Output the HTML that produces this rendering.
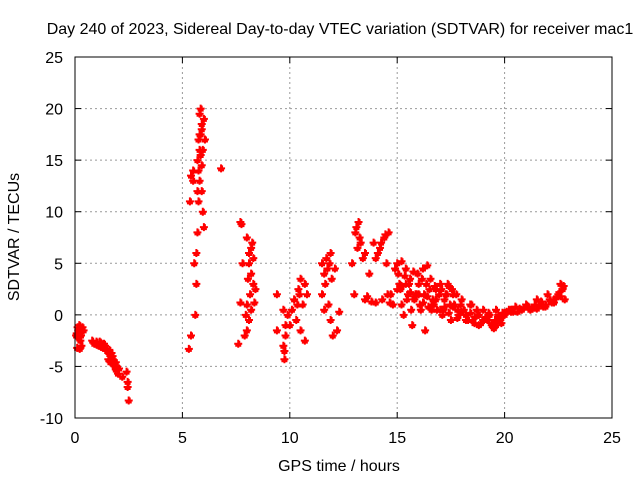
<!DOCTYPE html>
<html><head><meta charset="utf-8"><style>
body{margin:0;background:#fff}
svg{display:block;font-family:"Liberation Sans",sans-serif}
</style></head><body>
<svg id="chart" width="640" height="480">
<text x="340" y="34" font-size="16" text-anchor="middle">Day 240 of 2023, Sidereal Day-to-day VTEC variation (SDTVAR) for receiver mac1</text>
<g id="grid"></g><g id="ticks"></g><g id="pts"></g>
<rect x="75" y="57" width="537" height="361" fill="none" stroke="#000" stroke-width="1"/>
<text x="339" y="471" font-size="16" text-anchor="middle">GPS time / hours</text>
<text transform="translate(19,237) rotate(-90)" font-size="16" text-anchor="middle">SDTVAR / TECUs</text>
</svg>
<script>
const xTicks=[0,5,10,15,20,25];
const yTicks=[-10,-5,0,5,10,15,20,25];
const hours=[0.05,0.1,0.15,0.2,0.25,0.3,0.35,0.4,0.12,0.22,0.08,0.18,0.28,
0.8,0.9,1.0,1.1,1.2,1.3,1.4,1.5,1.6,1.7,1.8,1.9,2.0,2.2,2.4,2.45,2.5,2.45,1.55,1.65,1.75,1.85,1.95,1.45,1.35,1.05,1.25,1.15,1.6,1.7,1.8,1.9,2.05,
5.3,5.4,5.35,5.4,5.5,5.55,5.6,5.65,5.7,5.7,5.75,5.8,5.85,5.9,5.95,6.0,5.9,5.95,6.0,5.8,5.85,6.05,5.75,6.8,5.65,5.8,5.9,5.7,5.75,5.8,5.85,5.9,5.5,
7.6,7.7,7.7,7.75,7.8,7.9,8.0,8.0,8.1,8.2,8.3,8.1,8.2,8.3,8.4,8.0,8.15,8.25,8.35,8.05,8.1,8.2,7.95,
9.4,9.4,9.7,9.7,9.75,9.8,9.9,10.0,10.1,10.2,10.3,10.4,10.5,10.6,10.7,10.7,10.5,10.8,9.75,9.8,10.35,10.45,
11.5,11.5,11.6,11.7,11.8,11.9,11.9,12.0,12.1,12.2,12.3,11.6,11.65,11.75,11.85,11.95,
12.9,13.0,13.1,13.2,13.3,13.4,13.5,13.5,13.7,13.9,14.0,14.2,14.4,14.6,14.5,14.0,14.3,14.7,14.8,14.9,15.0,15.1,15.2,15.4,15.5,15.3,15.6,15.7,15.8,16.0,16.2,16.4,16.5,16.3,16.6,16.8,17.0,17.2,17.4,17.6,17.8,17.5,18.0,18.2,18.5,18.8,19.0,19.2,19.5,19.6,19.8,20.0,20.2,20.5,20.8,21.0,21.2,21.5,21.8,22.0,22.2,22.5,22.6,22.7,22.8,
15.2,15.9,16.1,16.7,17.1,17.3,18.4,18.7,19.3,19.9,20.4,21.4,21.9,22.3,
13.05,13.15,13.25,13.6,13.8,14.1,14.25,14.45,14.55,14.65,15.05,15.15,15.35,15.45,15.55,15.65,15.75,15.85,15.95,16.05,16.15,16.25,16.35,16.45,16.55,16.65,16.75,16.85,16.95,17.05,17.15,17.25,17.35,17.45,17.55,17.65,17.75,17.85,17.95,18.1,18.3,18.45,18.6,18.75,18.9,19.1,19.25,19.4,19.55,19.7,19.85,20.1,20.3,20.6,20.9,21.1,21.3,21.6,21.7,22.1,22.4,22.55,22.75,
15.0,15.2,15.4,15.6,15.8,16.0,16.2,16.4,16.6,16.8,17.0,17.2,17.4,17.6,17.8,18.0,18.2,18.4,18.6,18.8,19.0,19.2,19.4,19.6,19.8,20.0,20.3,20.7,21.1,21.5,21.9,22.3,22.6];
const sdtvar=[-2.0,-3.2,-1.5,-1.0,-2.5,-3.0,-1.2,-1.5,-1.2,-3.3,-1.8,-2.2,-2.0,
-2.5,-2.8,-2.6,-3.0,-2.7,-3.2,-3.0,-3.5,-3.8,-4.2,-4.8,-5.3,-5.7,-6.0,-5.5,-7.0,-8.3,-6.5,-4.3,-4.6,-4.0,-5.0,-5.2,-3.3,-2.8,-2.9,-3.1,-2.6,-3.4,-3.7,-4.4,-4.6,-5.2,
-3.3,-2.0,11,13.5,14,5,0,3,8,15,17,19.5,20,18,16,19,12,10,8.5,13,15.5,17,11,14.2,6,17.5,14.5,12,14,16,17.5,18.5,13,
-2.8,1.2,9.0,8.8,5.0,-2.0,7.5,1.0,6.0,4.0,3.0,-0.5,0.5,5.5,2.5,-1.5,2.0,7,1.2,3.5,5,6.5,0,
2.0,-1.5,0.5,-3,-4.3,-2,0,-1.0,0.5,1.5,-0.5,2.5,3.5,1,-2.5,3.0,-1.5,2.0,-3.5,-1,1,2,
2,5,4,5.5,1,6,-0.5,-2.0,4.5,-1.5,0.3,0.5,3,4.5,5,3.5,
5,2,8.5,9,7,5.5,1.5,6,4,7,5.5,6.5,7.5,8,5,1.2,1.5,2,1,4.5,5,3,5.2,4.5,2,0,3.5,-1,1.5,3,4.5,4.8,2.5,-1.5,0.5,2.5,3,1.5,2.8,2,0.5,-0.5,1.5,0,-0.5,-1,0.5,-0.5,-1.3,0.5,-0.5,0,0.5,0.8,0.5,1,0.5,1.5,0.8,2,1.2,2,3,2.5,1.5,
1.0,2.0,0.5,1.0,0.0,2.0,1.0,0.5,0.0,0.2,0.3,1.0,0.8,1.5,
8,6.5,7.5,1.8,1.3,6,7,7.8,2,1.2,4,2.5,3.8,1.5,3,0.5,4.2,2,4,1,3.5,2,3,0.8,3.5,1.5,2.8,0.5,2,2.5,0.5,2,3,1,2.5,1,2,0,1,0.5,-0.5,1,-0.2,0,-0.8,-0.3,0.2,-1,-0.5,0,-0.8,0.3,0.5,0.3,0.7,0.8,0.6,1,1.3,1.5,1.7,2.2,2.8,
2.5,2.8,3,2.2,1.8,2,1.2,1.8,1,1.5,0.5,0.8,0.2,0.8,-0.3,0.3,-0.5,0.2,-0.8,0,-0.5,-0.2,-0.8,-1.0,-0.3,0.2,0.3,0.6,0.8,0.6,1.0,1.2,1.8];
const X=v=>75+v*(537/25), Y=v=>418-(v+10)*(361/35);
const NS="http://www.w3.org/2000/svg";
const grid=document.getElementById('grid'),ticks=document.getElementById('ticks'),pts=document.getElementById('pts');
function mk(tag,attrs,parent){const e=document.createElementNS(NS,tag);for(const k in attrs)e.setAttribute(k,attrs[k]);parent.appendChild(e);return e;}
xTicks.forEach(t=>{const x=X(t);
 if(t>0&&t<25){const g=mk('line',{x1:x,x2:x,y1:57,y2:418,stroke:'#999','stroke-dasharray':'2,3'},grid);
 
 }
 mk('line',{x1:x,x2:x,y1:418,y2:412,stroke:'#000'},ticks);mk('line',{x1:x,x2:x,y1:57,y2:63,stroke:'#000'},ticks);
 const l=mk('text',{x:x,y:443,'font-size':16,'text-anchor':'middle'},ticks);l.textContent=t;
 
 });
yTicks.forEach(t=>{const y=Y(t);
 if(t>-10&&t<25){const g=mk('line',{x1:75,x2:612,y1:y,y2:y,stroke:'#999','stroke-dasharray':'2,3'},grid);
 
 }
 mk('line',{x1:75,x2:81,y1:y,y2:y,stroke:'#000'},ticks);mk('line',{x1:612,x2:606,y1:y,y2:y,stroke:'#000'},ticks);
 const l=mk('text',{x:63,y:y+6,'font-size':16,'text-anchor':'end'},ticks);l.textContent=t;
 
 });
hours.forEach((h,i)=>{const x=X(h),y=Y(sdtvar[i]);
 const p=mk('path',{d:`M${x-4},${y}H${x+4}M${x},${y-4}V${y+4}M${x-3},${y+2}H${x+3}M${x+1},${y-3}V${y+3}`,stroke:'#f00','stroke-width':2,fill:'none'},pts);
 
 });
</script>
</body></html>
